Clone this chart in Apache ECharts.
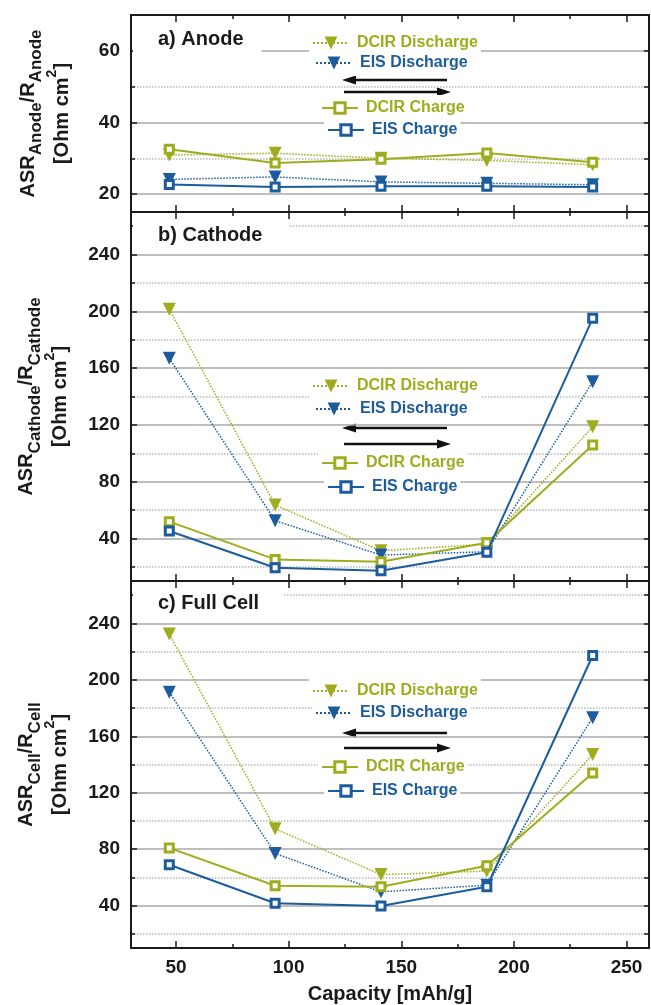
<!DOCTYPE html>
<html>
<head>
<meta charset="utf-8">
<script src="https://cdn.jsdelivr.net/npm/echarts@6/dist/echarts.min.js"></script>
<style>
  html, body { margin: 0; padding: 0; background: #fff; }
  #chart { width: 651px; height: 1005px; }
</style>
</head>
<body>
<div id="chart"></div>
<script>
// capacity positions of the measurements [mAh/g]
const capacity = [47, 94, 141, 188, 235];
const xTicks = [50, 100, 150, 200, 250];
const xMinor = [75, 125, 175, 225];

// a) anode
const anodeDcirDis = [30.9, 31.4, 30.0, 29.4, 28.2];
const anodeEisDis  = [24.1, 24.8, 23.4, 23.0, 22.6];
const anodeDcirCha = [32.5, 28.7, 29.7, 31.5, 28.9];
const anodeEisCha  = [22.7, 22.0, 22.2, 22.2, 22.0];
const anodeTicks = [20, 40, 60];
const anodeMinor = [30, 50];

// b) cathode
const cathDcirDis = [201.5, 63.5, 31.3, 36.0, 118.7];
const cathEisDis  = [167.0, 52.5, 28.3, 30.6, 150.4];
const cathDcirCha = [51.8, 25.2, 23.6, 37.0, 105.8];
const cathEisCha  = [45.2, 19.3, 17.2, 30.2, 195.1];

// c) full cell
const cellDcirDis = [232.4, 94.4, 62.0, 64.5, 147.1];
const cellEisDis  = [191.2, 77.0, 49.8, 54.5, 173.2];
const cellDcirCha = [80.9, 54.1, 53.4, 68.2, 133.9];
const cellEisCha  = [69.0, 41.7, 39.8, 53.4, 217.2];

const bigTicks = [40, 80, 120, 160, 200, 240];
const bigMinor = [20, 60, 100, 140, 180, 220, 260];

const seriesNames = ['DCIR Discharge', 'EIS Discharge', 'DCIR Charge', 'EIS Charge'];

const FONT = 'Liberation Sans';
const OLIVE = '#9fac1d';
const BLUE = '#1c5c9d';
const INK = '#1a1a1a';
const seriesColors = [OLIVE, BLUE, OLIVE, BLUE];

const panels = [
  { title: 'a) Anode', sub: 'Anode', min: 15, max: 70, ticks: anodeTicks, minor: anodeMinor,
    values: [anodeDcirDis, anodeEisDis, anodeDcirCha, anodeEisCha],
    grid: { top: 15, height: 197 }, titleY: 41, titlePadR: 18,
    legendY: [43, 63, 108, 130], arrowY: [80, 92] },
  { title: 'b) Cathode', sub: 'Cathode', min: 10, max: 270, ticks: bigTicks, minor: bigMinor,
    values: [cathDcirDis, cathEisDis, cathDcirCha, cathEisCha],
    grid: { top: 212, height: 369 }, titleY: 237, titlePadR: 26,
    legendY: [386, 409, 463, 487], arrowY: [428, 444] },
  { title: 'c) Full Cell', sub: 'Cell', min: 10, max: 270, ticks: bigTicks, minor: bigMinor,
    values: [cellDcirDis, cellEisDis, cellDcirCha, cellEisCha],
    grid: { top: 581, height: 369 }, titleY: 605, titlePadR: 24,
    legendY: [691, 713, 767, 791], arrowY: [733, 748] }
];

const legendX = [312, 315, 321, 327];

const nameRich = {
  s: { fontSize: 17, fontWeight: 'bold', fontFamily: FONT, color: INK, lineHeight: 26, verticalAlign: 'bottom' },
  p: { fontSize: 14, fontWeight: 'bold', fontFamily: FONT, color: INK, lineHeight: 14, verticalAlign: 'top' }
};

function xAxesFor(g, last) {
  const base = { gridIndex: g, type: 'value', min: 30, max: 260, splitLine: { show: false } };
  const line = { show: true, lineStyle: { color: INK, width: 2 } };
  const tick = (vals, len) => ({ show: true, inside: true, length: len, customValues: vals, lineStyle: { color: INK, width: 1.5 } });
  return [
    Object.assign({}, base, {
      position: 'bottom', axisLine: line, axisTick: tick(xTicks, 7),
      axisLabel: { show: last, customValues: xTicks, margin: 10, fontSize: 19, fontWeight: 'bold', fontFamily: FONT, color: INK },
      name: last ? 'Capacity [mAh/g]' : '', nameLocation: 'middle', nameGap: 36,
      nameTextStyle: { fontSize: 20, fontWeight: 'bold', fontFamily: FONT, color: INK }
    }),
    Object.assign({}, base, { position: 'bottom', axisLine: { show: false }, axisTick: tick(xMinor, 4), axisLabel: { show: false } }),
    Object.assign({}, base, { position: 'top', axisLine: line, axisTick: tick(xTicks, 7), axisLabel: { show: false } }),
    Object.assign({}, base, { position: 'top', axisLine: { show: false }, axisTick: tick(xMinor, 4), axisLabel: { show: false } })
  ];
}

function yAxesFor(g, p) {
  const base = { gridIndex: g, type: 'value', min: p.min, max: p.max };
  const tick = (vals, len) => ({ show: true, inside: true, length: len, customValues: vals, lineStyle: { color: INK, width: 1.5 } });
  return [
    Object.assign({}, base, {
      position: 'left',
      name: 'ASR{s|' + p.sub + '}/R{s|' + p.sub + '}\n[Ohm cm{p|2}]',
      nameLocation: 'middle', nameRotate: 90, nameGap: 52,
      nameTextStyle: { fontSize: 20, fontWeight: 'bold', fontFamily: FONT, color: INK, lineHeight: 34, rich: nameRich },
      axisLine: { show: true, lineStyle: { color: INK, width: 2 } },
      axisTick: tick(p.ticks, 6),
      axisLabel: { customValues: p.ticks, margin: 11, fontSize: 19, fontWeight: 'bold', fontFamily: FONT, color: INK },
      splitLine: { show: true, lineStyle: { color: '#a8a8a8', width: 1.5 } }
    }),
    Object.assign({}, base, {
      position: 'left', axisLine: { show: false }, axisTick: tick(p.minor, 4), axisLabel: { show: false },
      splitLine: { show: true, lineStyle: { color: '#b8b8b8', width: 1.5, type: 'dotted' } }
    }),
    Object.assign({}, base, {
      position: 'right', axisLine: { show: true, lineStyle: { color: INK, width: 2 } },
      axisTick: tick(p.ticks.concat(p.minor), 5), axisLabel: { show: false }, splitLine: { show: false }
    })
  ];
}

function makeSeries(g, k, values) {
  const color = seriesColors[k];
  const discharge = k < 2;
  const s = {
    type: 'line', name: seriesNames[k],
    xAxisIndex: g * 4, yAxisIndex: g * 3,
    data: capacity.map((c, i) => [c, values[i]]),
    z: 3 + k
  };
  if (discharge) {
    Object.assign(s, {
      symbol: 'triangle', symbolRotate: 180, symbolSize: 13,
      itemStyle: { color: color },
      lineStyle: { color: color, width: 1.5, type: 'dotted' }
    });
  } else {
    Object.assign(s, {
      symbol: 'rect', symbolSize: 8,
      itemStyle: { color: '#fff', borderColor: color, borderWidth: 3 },
      lineStyle: { color: color, width: 2 }
    });
  }
  return s;
}

const xAxis = [], yAxis = [], series = [], legend = [], title = [], graphic = [];
panels.forEach((p, g) => {
  xAxis.push(...xAxesFor(g, g === panels.length - 1));
  yAxis.push(...yAxesFor(g, p));
  p.values.forEach((v, k) => series.push(makeSeries(g, k, v)));

  title.push({
    text: p.title, left: 133, top: p.titleY - 16,
    padding: [4, p.titlePadR, 6, 25], backgroundColor: '#fff',
    textStyle: { fontSize: 20, fontWeight: 'bold', fontFamily: FONT, color: INK }
  });

  seriesNames.forEach((n, k) => {
    const dis = k < 2;
    legend.push({
      left: legendX[k] - 3, top: p.legendY[k] - 13,
      padding: [4, 3, 4, 3], backgroundColor: '#fff',
      itemWidth: 36, itemHeight: dis ? 16 : 13,
      selectedMode: false,
      itemStyle: dis ? {} : { borderWidth: 3 },
      textStyle: { fontSize: 16, fontWeight: 'bold', fontFamily: FONT, lineHeight: 18, padding: [0, 0, 0, 3] },
      data: [{ name: n, textStyle: { color: seriesColors[k] } }]
    });
  });

  // direction arrows: left (discharge) and right (charge)
  const [yl, yr] = p.arrowY;
  graphic.push({
    type: 'group', children: [
      { type: 'line', shape: { x1: 447, y1: yl, x2: 352, y2: yl }, style: { stroke: '#111', lineWidth: 2.5 } },
      { type: 'polygon', shape: { points: [[342, yl], [356, yl - 4.5], [356, yl + 4.5]] }, style: { fill: '#111' } },
      { type: 'line', shape: { x1: 344, y1: yr, x2: 441, y2: yr }, style: { stroke: '#111', lineWidth: 2.5 } },
      { type: 'polygon', shape: { points: [[451, yr], [437, yr - 4.5], [437, yr + 4.5]] }, style: { fill: '#111' } }
    ]
  });
});

const chart = echarts.init(document.getElementById('chart'));
chart.setOption({
  backgroundColor: '#fff',
  animation: false,
  grid: panels.map(p => ({ left: 131, right: 2, top: p.grid.top, height: p.grid.height })),
  title: title,
  legend: legend,
  xAxis: xAxis,
  yAxis: yAxis,
  series: series,
  graphic: graphic
});
</script>
</body>
</html>
